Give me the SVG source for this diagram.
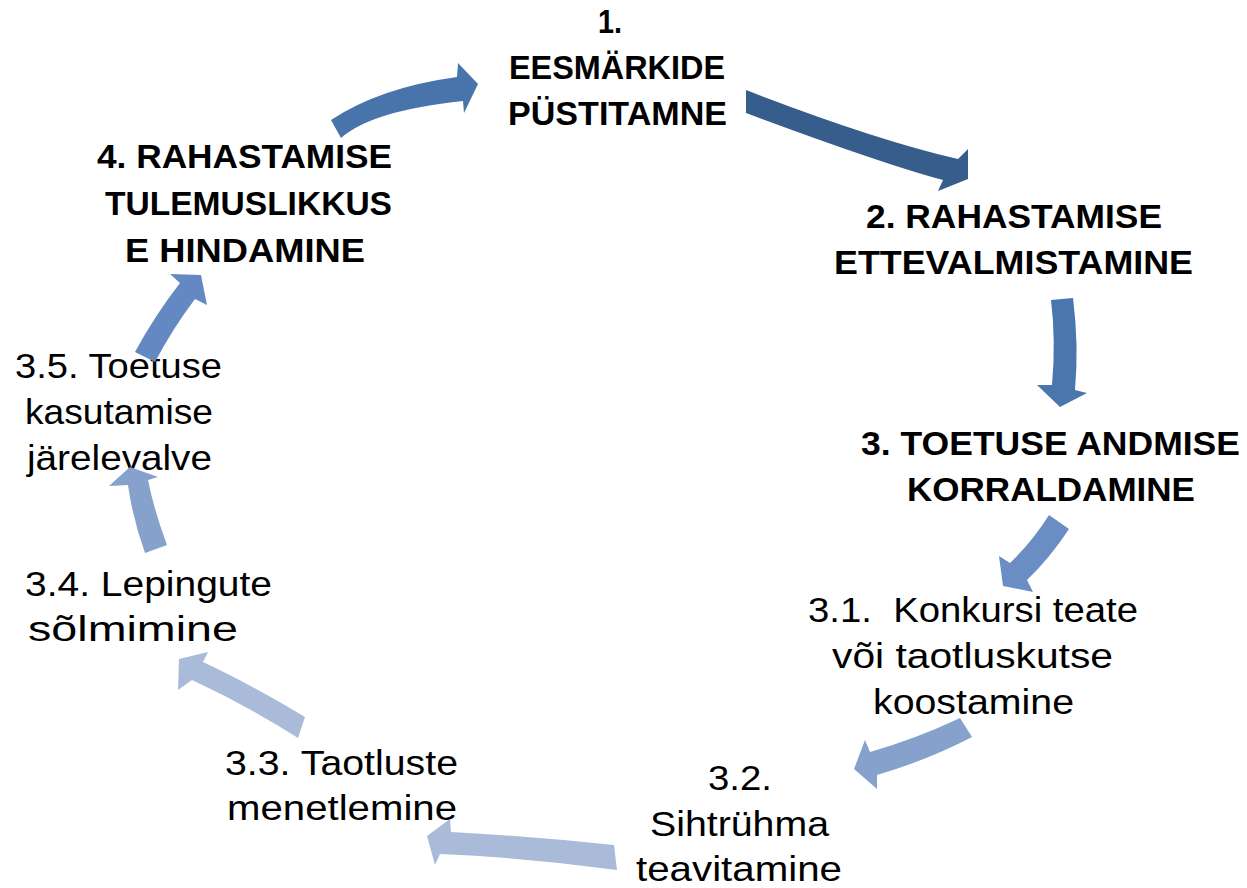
<svg xmlns="http://www.w3.org/2000/svg" width="1247" height="888" viewBox="0 0 1247 888">
<style>
.b{font-family:"Liberation Sans",Arial,sans-serif;font-weight:bold;font-size:33px;fill:#000}
.r{font-family:"Liberation Sans",Arial,sans-serif;font-size:35px;fill:#000}
.c1{fill:#4874ab}.c2{fill:#375d8c}.c3{fill:#4a76ae}.c4{fill:#6a8dc4}.c5{fill:#86a1cc}.c6{fill:#a9bbd9}.c9{fill:#6488c2}
</style>
<rect width="1247" height="888" fill="#fff"/>
<g id="n1"><text class="b" x="598" y="33" textLength="24" lengthAdjust="spacingAndGlyphs">1.</text><text class="b" x="509" y="79" textLength="216" lengthAdjust="spacingAndGlyphs">EESMÄRKIDE</text><text class="b" x="508" y="125" textLength="219" lengthAdjust="spacingAndGlyphs">PÜSTITAMNE</text></g>
<g id="n2"><text class="b" x="866" y="228" textLength="296" lengthAdjust="spacingAndGlyphs">2. RAHASTAMISE</text><text class="b" x="834" y="274" textLength="359" lengthAdjust="spacingAndGlyphs">ETTEVALMISTAMINE</text></g>
<g id="n3"><text class="b" x="861" y="455" textLength="379" lengthAdjust="spacingAndGlyphs">3. TOETUSE ANDMISE</text><text class="b" x="907" y="501" textLength="288" lengthAdjust="spacingAndGlyphs">KORRALDAMINE</text></g>
<g id="n4"><text class="b" x="97" y="168" textLength="295" lengthAdjust="spacingAndGlyphs">4. RAHASTAMISE</text><text class="b" x="105" y="215" textLength="287" lengthAdjust="spacingAndGlyphs">TULEMUSLIKKUS</text><text class="b" x="125" y="262" textLength="240" lengthAdjust="spacingAndGlyphs">E HINDAMINE</text></g>
<g id="n31"><text class="r" x="808" y="622" textLength="330" lengthAdjust="spacingAndGlyphs" xml:space="preserve">3.1.  Konkursi teate</text><text class="r" x="832" y="668" textLength="281" lengthAdjust="spacingAndGlyphs">või taotluskutse</text><text class="r" x="873" y="714" textLength="201" lengthAdjust="spacingAndGlyphs">koostamine</text></g>
<g id="n32"><text class="r" x="708" y="790" textLength="64" lengthAdjust="spacingAndGlyphs">3.2.</text><text class="r" x="650" y="836" textLength="179" lengthAdjust="spacingAndGlyphs">Sihtrühma</text><text class="r" x="636" y="881" textLength="206" lengthAdjust="spacingAndGlyphs">teavitamine</text></g>
<g id="n33"><text class="r" x="225" y="775" textLength="233" lengthAdjust="spacingAndGlyphs">3.3. Taotluste</text><text class="r" x="227" y="820" textLength="230" lengthAdjust="spacingAndGlyphs">menetlemine</text></g>
<g id="n34"><text class="r" x="25" y="596" textLength="247" lengthAdjust="spacingAndGlyphs">3.4. Lepingute</text><text class="r" x="28" y="641" textLength="210" lengthAdjust="spacingAndGlyphs">sõlmimine</text></g>
<g id="n35"><text class="r" x="15" y="378" textLength="207" lengthAdjust="spacingAndGlyphs">3.5. Toetuse</text><text class="r" x="25" y="424" textLength="188" lengthAdjust="spacingAndGlyphs">kasutamise</text><text class="r" x="27" y="470" textLength="185" lengthAdjust="spacingAndGlyphs">järelevalve</text></g>
<g id="connectors">
<path class="c1" d="M331,120 Q380,87.5 457,77 L458,63 L478,84 L464,113 L463,101 Q372,110.5 341,138 Z"/>
<path class="c2" d="M746,90 Q874,139.5 958,159 L968,149 L968,179 L938,191 L943,180 Q881.5,163.5 746,113 Z"/>
<path class="c3" d="M1051,300 L1073,298 Q1079,345 1075,390 L1087,393 L1060,407 L1037,385 L1052,385 Q1056,340 1051,300 Z"/>
<path class="c4" d="M1049,515 L1069,529 Q1050,558 1027,580 L1033,592 L1003,586 L999,556 L1010,563 Q1032,542 1049,515 Z"/>
<path class="c5" d="M960,718 Q918,738 870,752 L865,740 L854,769 L877,789 L877,775 Q928,760 972,737 Z"/>
<path class="c6" d="M614,845 Q530,836 451,832 L450,819 L427,836 L435,865 L440,854 Q530,858 617,870 Z"/>
<path class="c6" d="M305,717 Q250,684 203,662 L208,652 L179,659 L178,690 L192,680 Q248,706 298,738 Z"/>
<path class="c5" d="M145,553 L167,545 Q154,510 148,480 L158,477 L130,467 L109,486 L128,485 Q133,520 145,553 Z"/>
<path class="c9" d="M135,352 L155,362 Q173,328 195,299 L207,305 L201,275 L170,274 L180,283 Q155,315 135,352 Z"/>
</g>
</svg>
